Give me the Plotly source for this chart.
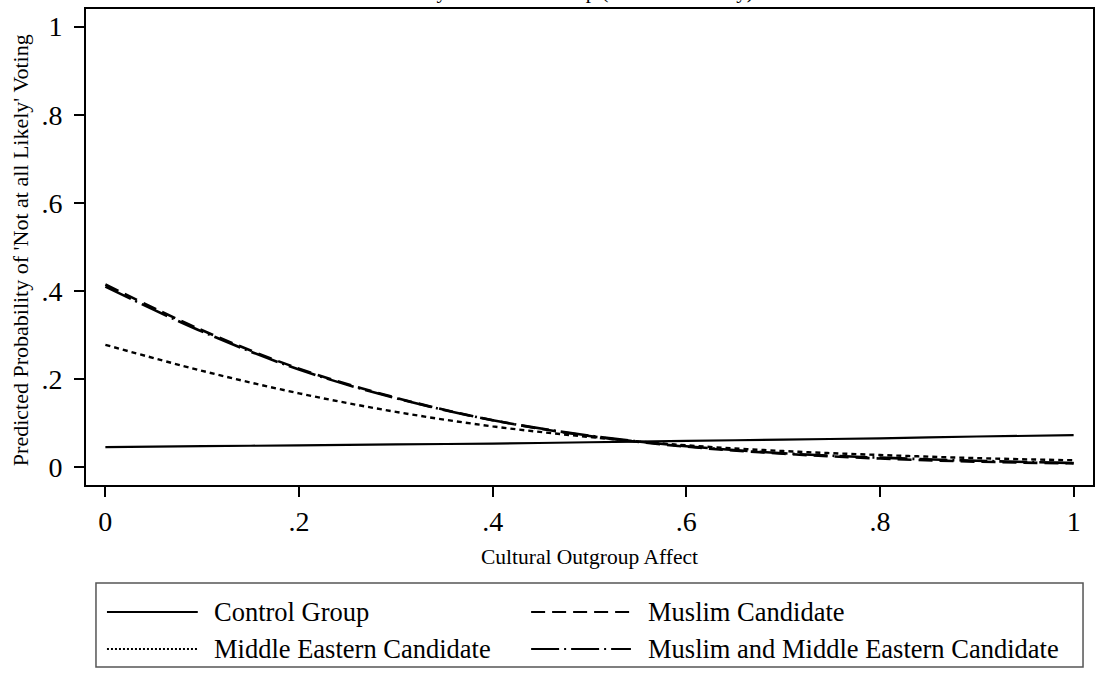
import plotly.graph_objects as go

# ---- data ----
x_vals = [0.0, 0.1, 0.2, 0.3, 0.4, 0.5, 0.6, 0.7, 0.8, 0.9, 1.0]
control = [0.046, 0.048, 0.050, 0.052, 0.054, 0.057, 0.060, 0.063, 0.066, 0.070, 0.073]
muslim = [0.415, 0.311, 0.224, 0.158, 0.107, 0.071, 0.047, 0.031, 0.020, 0.013, 0.009]
middle_eastern = [0.278, 0.219, 0.168, 0.126, 0.093, 0.069, 0.050, 0.037, 0.028, 0.021, 0.016]
muslim_me = [0.410, 0.308, 0.222, 0.157, 0.107, 0.072, 0.048, 0.032, 0.022, 0.015, 0.010]

series_names = ["Control Group", "Muslim Candidate",
                "Middle Eastern Candidate", "Muslim and Middle Eastern Candidate"]
tick_vals = [0, 0.2, 0.4, 0.6, 0.8, 1]
tick_text = ["0", ".2", ".4", ".6", ".8", "1"]

title_text = "by Treatment Group (Not at all Likely)"
x_title = "Cultural Outgroup Affect"
y_title = "Predicted Probability of 'Not at all Likely' Voting"

FONT = "Liberation Serif, Times New Roman, serif"
W, H = 1098, 673
L, R, T, B = 86, 1095, 9, 485  # plot-area pixel box

dashes = {
    "Control Group": "solid",
    "Muslim Candidate": "14px,7px",
    "Middle Eastern Candidate": "5px,4px",
    "Muslim and Middle Eastern Candidate": "28px,5px,2px,5px",
}
widths = {
    "Control Group": 2.2,
    "Muslim Candidate": 2.6,
    "Middle Eastern Candidate": 2.4,
    "Muslim and Middle Eastern Candidate": 2.6,
}

fig = go.Figure()
for name, ys in zip(series_names, [control, muslim, middle_eastern, muslim_me]):
    fig.add_trace(go.Scatter(
        x=x_vals, y=ys, mode="lines", name=name, showlegend=False,
        line=dict(color="black", width=widths[name], dash=dashes[name], shape="spline"),
    ))


def px(xp):
    return (xp - L) / (R - L)


def py(yp):
    return (B - yp) / (B - T)


axis_common = dict(
    showgrid=False, zeroline=False, showline=True, linecolor="black", linewidth=2,
    mirror=True, ticks="outside", ticklen=10, tickwidth=1.5, tickcolor="black",
    tickvals=tick_vals, ticktext=tick_text,
    tickfont=dict(family=FONT, size=28, color="black"),
)
fig.update_xaxes(range=[-0.02, 1.02], **axis_common)
fig.update_yaxes(range=[-0.04, 1.04], ticklabelstandoff=6, **axis_common)

annotations = [
    dict(text=title_text, xref="paper", yref="paper", x=0.5, y=py(4.5), xanchor="center",
         yanchor="bottom", showarrow=False, font=dict(family=FONT, size=21, color="black")),
    dict(text=x_title, xref="paper", yref="paper", x=0.5, y=py(557), xanchor="center",
         yanchor="middle", showarrow=False, font=dict(family=FONT, size=21.5, color="black")),
    dict(text=y_title, xref="paper", yref="paper", x=px(20), y=py(250), xanchor="center",
         yanchor="middle", textangle=-90, showarrow=False,
         font=dict(family=FONT, size=22, color="black")),
]

# legend box drawn manually (Stata-style)
shapes = [dict(type="rect", xref="paper", yref="paper", x0=px(96), x1=px(1085),
               y0=py(667), y1=py(583), line=dict(color="#555555", width=1.5))]
legend_pos = [
    ("Control Group", 107, 198, 212, 612),
    ("Muslim Candidate", 532, 632, 647, 612),
    ("Middle Eastern Candidate", 107, 198, 212, 649),
    ("Muslim and Middle Eastern Candidate", 532, 632, 647, 649),
]
for name, sx0, sx1, tx, yy in legend_pos:
    dsh = dashes[name]
    if name == "Middle Eastern Candidate":
        dsh = "2px,2px"
    shapes.append(dict(type="line", xref="paper", yref="paper", x0=px(sx0), x1=px(sx1),
                       y0=py(yy), y1=py(yy), line=dict(color="black", width=2, dash=dsh)))
    annotations.append(dict(text=name, xref="paper", yref="paper", x=px(tx), y=py(yy),
                            xanchor="left", yanchor="middle", showarrow=False,
                            font=dict(family=FONT, size=26.5, color="black")))

fig.update_layout(
    width=W, height=H, autosize=False,
    margin=dict(l=L, r=W - R, t=T, b=H - B, pad=0),
    paper_bgcolor="white", plot_bgcolor="white",
    annotations=annotations, shapes=shapes, showlegend=False,
)

fig.write_html("out.html", config={"displayModeBar": False},
               post_script="document.body.style.margin='0px';document.body.style.overflow='hidden';")
